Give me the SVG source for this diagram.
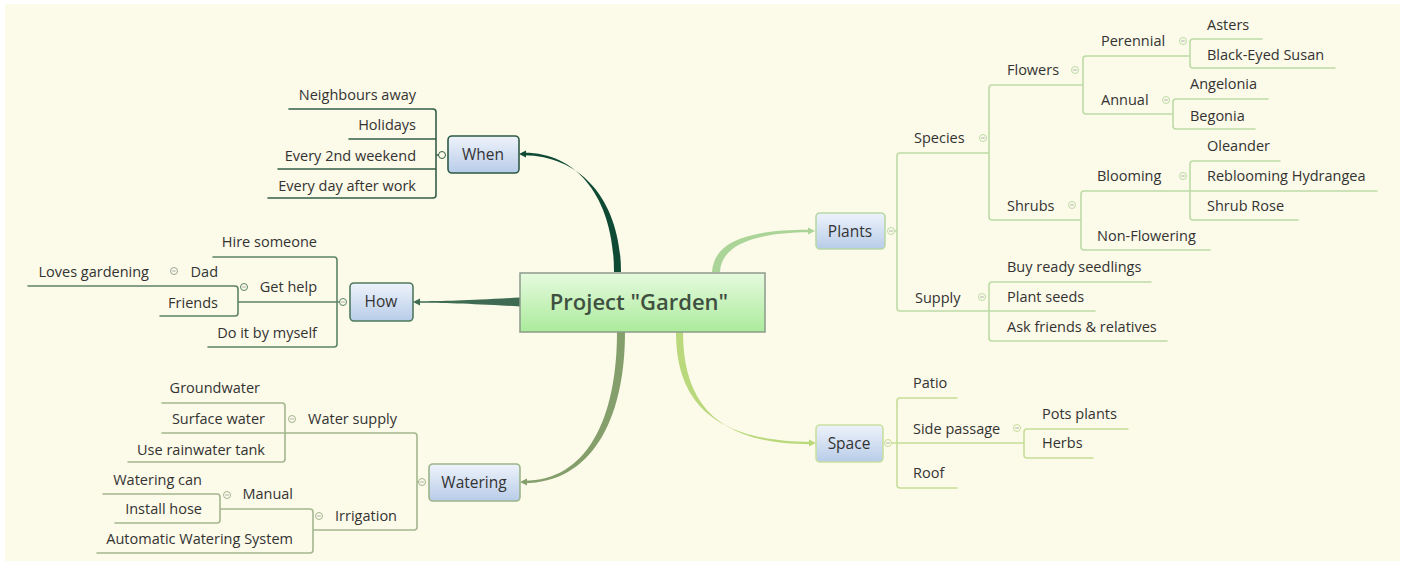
<svg xmlns="http://www.w3.org/2000/svg" width="1405" height="565" viewBox="0 0 1405 565">
<defs>
<linearGradient id="gBlue" x1="0" y1="0" x2="0" y2="1"><stop offset="0" stop-color="#eef3fb"/><stop offset="1" stop-color="#b8cce8"/></linearGradient>
<linearGradient id="gGreen" x1="0" y1="0" x2="0" y2="1"><stop offset="0" stop-color="#e6fadf"/><stop offset="1" stop-color="#abeb9b"/></linearGradient>
<style>
text{font-family:"Open Sans","Liberation Sans",sans-serif;font-size:14.5px;fill:#333}
.l{text-anchor:end}
.m{text-anchor:middle;font-size:15.5px;fill:#333}
.br{fill:none;stroke-width:1.6;stroke-linecap:round}
.c{fill:#fcfae8;stroke-width:1}
.mi{stroke:#a0a8a0;stroke-width:0.9}
.when{stroke:#355f48}.how{stroke:#5c8468}.wat{stroke:#a3b68e}.pl{stroke:#bcdba6}.sp{stroke:#c6de98}
.box{stroke-width:1.6}
</style>
</defs>
<rect x="0" y="0" width="1405" height="565" fill="#ffffff"/>
<rect x="5" y="4" width="1395" height="557" fill="#fcfae8"/>

<g id="connectors">
<path d="M614,272 C614,202 580,152.5 524,152.8 L524,155.2 C584,156 621,204 621,272 Z" fill="#0f4a35"/>
<path d="M519,154 L526,150.5 L526,157.5 Z" fill="#0f4a35"/>
<path d="M520,297.5 C470,300.5 445,301.2 418,301.3 L418,302.7 C445,302.8 470,303.5 520,306.5 Z" fill="#3e6b52"/>
<path d="M413,302 L420,298.5 L420,305.5 Z" fill="#3e6b52"/>
<path d="M617,332 C617,420 586,481 524,480.8 L524,483.2 C590,483 625,422 625,332 Z" fill="#849f6c"/>
<path d="M520,482 L527,478.5 L527,485.5 Z" fill="#849f6c"/>
<path d="M676,332 C676,402 714,441.5 811,441.8 L811,444.2 C718,444.5 683,404 683,332 Z" fill="#b9d97c"/>
<path d="M816,443 L809,439.5 L809,446.5 Z" fill="#b9d97c"/>
<path d="M712,272 C714,244 742,229.6 810,229.8 L810,232.2 C748,232.5 721,248 720,272 Z" fill="#abd498"/>
<path d="M815,231 L808,227.5 L808,234.5 Z" fill="#abd498"/>
</g>

<g id="central">
<rect x="520" y="273" width="245" height="59" fill="url(#gGreen)" stroke="#8c9a8a" stroke-width="1.5"/>
<text x="639" y="310" text-anchor="middle" style="font-size:22px;font-weight:600;fill:#3f4f40">Project "Garden"</text>
</g>

<g id="when">
<path class="br when" d="M289,109 H433 Q436,109 436,112 V195 Q436,198 433,198 H268 M349,139 H436 M278,169 H436 M436,155 H438.5"/>
<circle class="c when" cx="442" cy="155" r="3.5"/>
<rect class="box" x="448" y="136" width="71" height="37" rx="4" fill="url(#gBlue)" stroke="#2d5a45"/>
<text class="m" x="483" y="160">When</text>
<text class="l" x="416" y="100">Neighbours away</text>
<text class="l" x="416" y="130">Holidays</text>
<text class="l" x="416" y="161">Every 2nd weekend</text>
<text class="l" x="416" y="191">Every day after work</text>
</g>

<g id="how">
<path class="br how" d="M213,257 H334 Q337,257 337,260 V344 Q337,347 334,347 H208 M238,302 H339.5 M28,286 H235 Q238,286 238,289 V313 Q238,316 235,316 H160"/>
<circle class="c how" cx="343" cy="302" r="3.5"/>
<path class="mi" d="M341.2,302 H344.8"/>
<circle class="c how" cx="244" cy="287" r="3.5"/>
<path class="mi" d="M242.2,287 H245.8"/>
<circle class="c" stroke="#9aa89a" cx="174" cy="271" r="3.5"/>
<path class="mi" d="M172.2,271 H175.8"/>
<rect class="box" x="350" y="283" width="63" height="38" rx="4" fill="url(#gBlue)" stroke="#4f7a5e"/>
<text class="m" x="381" y="307">How</text>
<text class="l" x="317" y="247">Hire someone</text>
<text class="l" x="317" y="292">Get help</text>
<text class="l" x="218" y="277">Dad</text>
<text class="l" x="149" y="277">Loves gardening</text>
<text class="l" x="218" y="308">Friends</text>
<text class="l" x="317" y="338">Do it by myself</text>
</g>

<g id="watering">
<path class="br wat" d="M280,433 H414 Q417,433 417,436 V527 Q417,530 414,530 H313 M417,482 H418.5 M162,403 H282 Q285,403 285,406 V459 Q285,462 282,462 H128 M162,433 H285 M220,509 H310 Q313,509 313,512 V550 Q313,553 310,553 H97 M103,494 H217 Q220,494 220,497 V520 Q220,523 217,523 H115"/>
<circle class="c wat" cx="422" cy="482" r="3.5"/>
<path class="mi" d="M420.2,482 H423.8"/>
<circle class="c wat" cx="292" cy="419" r="3.5"/>
<path class="mi" d="M290.2,419 H293.8"/>
<circle class="c wat" cx="319" cy="516" r="3.5"/>
<path class="mi" d="M317.2,516 H320.8"/>
<circle class="c wat" cx="227" cy="495" r="3.5"/>
<path class="mi" d="M225.2,495 H228.8"/>
<rect class="box" x="429" y="464" width="91" height="37" rx="4" fill="url(#gBlue)" stroke="#9ab48a"/>
<text class="m" x="474" y="488">Watering</text>
<text class="l" x="397" y="424">Water supply</text>
<text class="l" x="260" y="393">Groundwater</text>
<text class="l" x="265" y="424">Surface water</text>
<text class="l" x="265" y="455">Use rainwater tank</text>
<text class="l" x="397" y="521">Irrigation</text>
<text class="l" x="293" y="499">Manual</text>
<text class="l" x="202" y="485">Watering can</text>
<text class="l" x="202" y="514">Install hose</text>
<text class="l" x="293" y="544">Automatic Watering System</text>
</g>

<g id="plants">
<path class="br pl" d="M989,153 H900 Q897,153 897,156 V308 Q897,311 900,311 H1095 M894.5,231 H897 M1083,85 H992 Q989,85 989,88 V217 Q989,220 992,220 H1081 M1190,56 H1086 Q1083,56 1083,59 V111 Q1083,114 1086,114 H1173 M1262,39 H1193 Q1190,39 1190,42 V65 Q1190,68 1193,68 H1335 M1268,99 H1176 Q1173,99 1173,102 V126 Q1173,129 1176,129 H1255 M1190,191 H1084 Q1081,191 1081,194 V247 Q1081,250 1084,250 H1210 M1280,161 H1193 Q1190,161 1190,164 V217 Q1190,220 1193,220 H1298 M1190,191 H1377 M1151,282 H992 Q989,282 989,285 V338 Q989,341 992,341 H1167"/>
<circle class="c pl" cx="891" cy="231" r="3.5"/>
<path class="mi" d="M889.2,231 H892.8"/>
<circle class="c pl" cx="983" cy="138" r="3.5"/>
<path class="mi" d="M981.2,138 H984.8"/>
<circle class="c pl" cx="1075" cy="70" r="3.5"/>
<path class="mi" d="M1073.2,70 H1076.8"/>
<circle class="c pl" cx="1183" cy="41" r="3.5"/>
<path class="mi" d="M1181.2,41 H1184.8"/>
<circle class="c pl" cx="1166" cy="100" r="3.5"/>
<path class="mi" d="M1164.2,100 H1167.8"/>
<circle class="c pl" cx="1072" cy="205" r="3.5"/>
<path class="mi" d="M1070.2,205 H1073.8"/>
<circle class="c pl" cx="1183" cy="176" r="3.5"/>
<path class="mi" d="M1181.2,176 H1184.8"/>
<circle class="c pl" cx="982" cy="297" r="3.5"/>
<path class="mi" d="M980.2,297 H983.8"/>
<rect class="box" x="816" y="213" width="69" height="36" rx="4" fill="url(#gBlue)" stroke="#b8d8a8"/>
<text class="m" x="850" y="237">Plants</text>
<text x="914" y="143">Species</text>
<text x="1007" y="75">Flowers</text>
<text x="1101" y="46">Perennial</text>
<text x="1207" y="30">Asters</text>
<text x="1207" y="60">Black-Eyed Susan</text>
<text x="1101" y="105">Annual</text>
<text x="1190" y="89">Angelonia</text>
<text x="1190" y="121">Begonia</text>
<text x="1007" y="211">Shrubs</text>
<text x="1097" y="181">Blooming</text>
<text x="1207" y="151">Oleander</text>
<text x="1207" y="181">Reblooming Hydrangea</text>
<text x="1207" y="211">Shrub Rose</text>
<text x="1097" y="241">Non-Flowering</text>
<text x="915" y="303">Supply</text>
<text x="1007" y="272">Buy ready seedlings</text>
<text x="1007" y="302">Plant seeds</text>
<text x="1007" y="332">Ask friends &amp; relatives</text>
</g>

<g id="space">
<path class="br sp" d="M957,398 H900 Q897,398 897,401 V485 Q897,488 900,488 H957 M891.5,443 H1024 M1128,429 H1027 Q1024,429 1024,432 V455 Q1024,458 1027,458 H1093"/>
<circle class="c sp" cx="888" cy="443" r="3.5"/>
<path class="mi" d="M886.2,443 H889.8"/>
<circle class="c sp" cx="1017" cy="428" r="3.5"/>
<path class="mi" d="M1015.2,428 H1018.8"/>
<rect class="box" x="816" y="425" width="67" height="37" rx="4" fill="url(#gBlue)" stroke="#c8e0a0"/>
<text class="m" x="849" y="449">Space</text>
<text x="913" y="388">Patio</text>
<text x="913" y="434">Side passage</text>
<text x="1042" y="419">Pots plants</text>
<text x="1042" y="448">Herbs</text>
<text x="913" y="478">Roof</text>
</g>
</svg>
